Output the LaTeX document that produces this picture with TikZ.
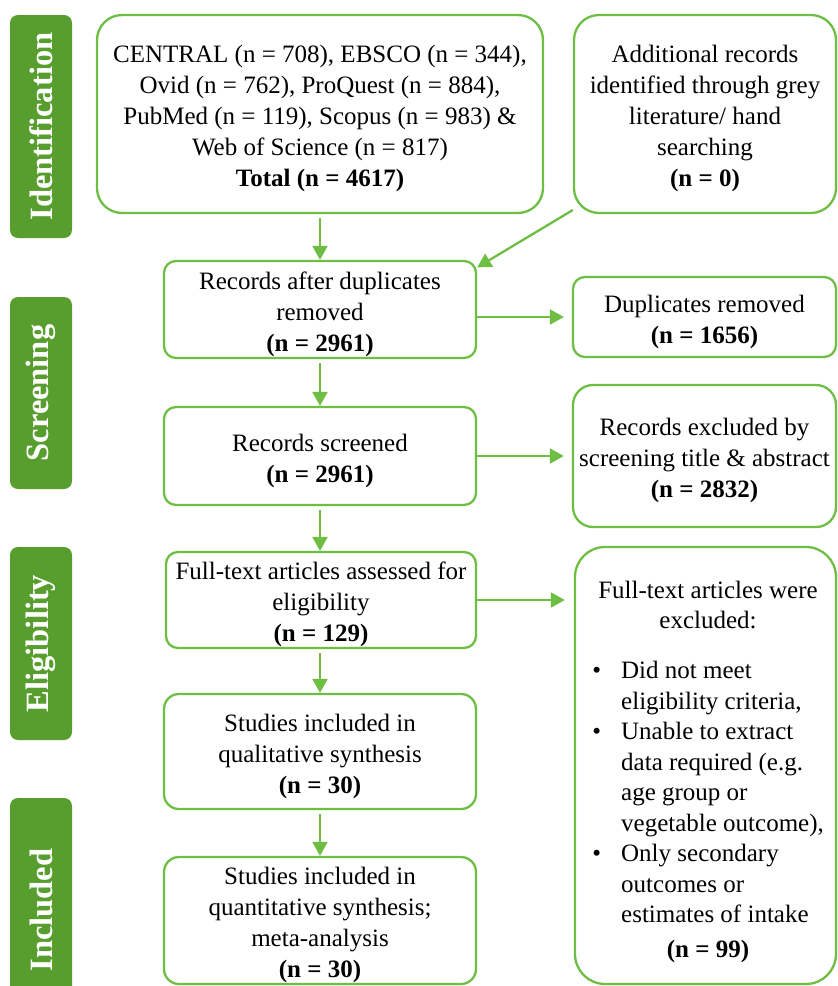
\documentclass[tikz,border=0pt]{standalone}
\usepackage{fontspec}
\setmainfont{Liberation Serif}
\usetikzlibrary{arrows.meta}
\definecolor{lgreen}{RGB}{110,190,68}
\definecolor{dgreen}{RGB}{88,158,46}
\newcommand{\topstrut}{\rule{0pt}{27pt}}
\begin{document}
\begin{tikzpicture}[x=1pt,y=-1pt,
  flowbox/.style={draw=lgreen, line width=2.3pt, rounded corners=#1, align=center,
    inner sep=0pt, font=\fontsize{25}{31}\selectfont},
  flowbox/.default=12pt,
  phase/.style={fill=dgreen, rounded corners=8pt, minimum height=62pt, inner sep=0pt,
    text=white, font=\fontsize{32.5}{36}\selectfont\bfseries, rotate=90},
  txt/.style={align=center, inner sep=0pt, font=\fontsize{25}{30.5}\selectfont},
  flow/.style={draw=lgreen, line width=2.3pt, -{Triangle[length=14pt,width=15pt]}}
]
\useasboundingbox (0,0) rectangle (838,986);
\clip (0,0) rectangle (838,986);

% phase labels
\node[phase, minimum width=223pt] (pid) at (41,126.5) {Identification};
\node[phase, minimum width=192pt] (psc) at (41,393) {Screening};
\node[phase, minimum width=193pt] (pel) at (41,643.5) {Eligibility};
\node[phase, minimum width=224pt] (pin) at (41,910) {Included};

% boxes
\node[flowbox=25pt, minimum width=446pt, minimum height=198pt] (db) at (320,114)
  {\topstrut CENTRAL (n = 708), EBSCO (n = 344),\\ Ovid (n = 762), ProQuest (n = 884),\\ PubMed (n = 119), Scopus (n = 983) \&\\ Web of Science (n = 817)\\ \textbf{Total (n = 4617)}};
\node[flowbox=25pt, minimum width=262pt, minimum height=198pt] (add) at (705,114)
  {\topstrut Additional records\\ identified through grey\\ literature/ hand\\ searching\\ \textbf{(n = 0)}};
\node[flowbox, minimum width=312pt, minimum height=97pt] (rec) at (320,309.5)
  {\topstrut Records after duplicates\\ removed\\ \textbf{(n = 2961)}};
\node[flowbox, minimum width=263pt, minimum height=80pt] (dup) at (704.5,317)
  {\topstrut Duplicates removed\\ \textbf{(n = 1656)}};
\node[flowbox, minimum width=312pt, minimum height=98pt] (scr) at (320,456)
  {\topstrut Records screened\\ \textbf{(n = 2961)}};
\node[flowbox=20pt, minimum width=263pt, minimum height=142pt] (excl) at (704.5,456)
  {\topstrut Records excluded by\\ screening title \& abstract\\ \textbf{(n = 2832)}};
\node[flowbox, minimum width=310pt, minimum height=96pt] (ft) at (321,600)
  {\topstrut Full-text articles assessed for\\ eligibility\\ \textbf{(n = 129)}};
\node[flowbox=15pt, minimum width=312pt, minimum height=115pt] (qual) at (320,751.5)
  {\topstrut Studies included in\\ qualitative synthesis\\ \textbf{(n = 30)}};
\node[flowbox=15pt, minimum width=312pt, minimum height=127pt] (quant) at (320,920.5)
  {\topstrut Studies included in\\ quantitative synthesis;\\ meta-analysis\\ \textbf{(n = 30)}};
\node[flowbox=30pt, minimum width=261pt, minimum height=437pt] (ftex) at (705.5,765.5) {};

% text inside the exclusion box
\node[txt] (fthead) at (708,605) {Full-text articles were\\ excluded:};
\node[txt, align=left, anchor=north west] (ftlist) at (621,661)
  {\llap{\textbullet\hspace{20pt}}Did not meet\\
   eligibility criteria,\\
   \llap{\textbullet\hspace{20pt}}Unable to extract\\
   data required (e.g.\\
   age group or\\
   vegetable outcome),\\
   \llap{\textbullet\hspace{20pt}}Only secondary\\
   outcomes or\\
   estimates of intake};
\node[txt] (ftn) at (708,951) {\textbf{(n = 99)}};

% connectors
\draw[flow, shorten <=4pt] (db.south) -- (rec.north);
\draw[flow] (add.216) -- (rec.15);
\draw[flow, shorten >=8pt] (rec.east |- dup.west) -- (dup.west);
\draw[flow, shorten <=4pt] (rec.south) -- (scr.north);
\draw[flow, shorten >=8pt] (scr.east) -- (excl.west);
\draw[flow, shorten <=4pt] (scr.south) -- (scr.south |- ft.north);
\draw[flow, shorten >=9pt] (ft.east) -- (ftex.west |- ft.east);
\draw[flow, shorten <=4pt] (ft.south -| qual.north) -- (qual.north);
\draw[flow, shorten <=4pt] (qual.south) -- (quant.north);
\end{tikzpicture}
\end{document}
